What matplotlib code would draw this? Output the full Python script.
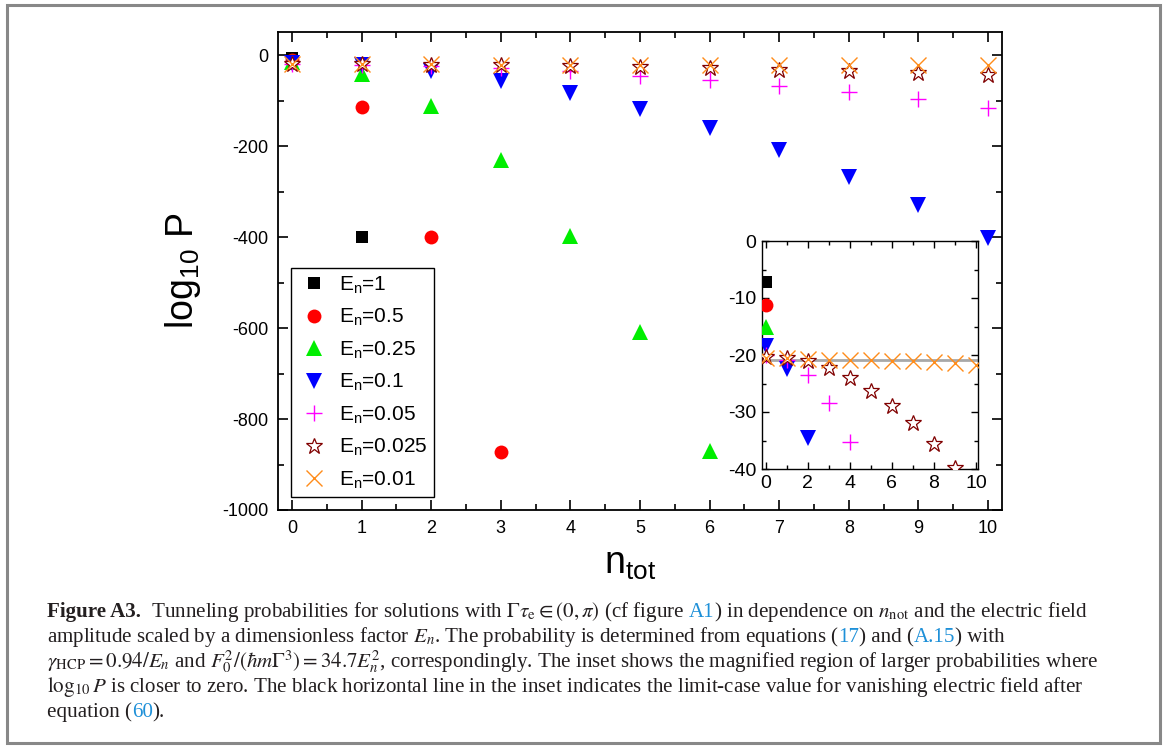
import matplotlib
matplotlib.use('Agg')
import matplotlib.pyplot as plt
from matplotlib.ticker import MultipleLocator
from matplotlib.patches import Rectangle
from matplotlib.transforms import IdentityTransform

plt.rcParams['font.family'] = ['Liberation Sans', 'DejaVu Sans']
plt.rcParams['mathtext.fontset'] = 'custom'
plt.rcParams['mathtext.rm'] = 'Liberation Sans'
plt.rcParams['mathtext.it'] = 'Liberation Sans:italic'
plt.rcParams['axes.unicode_minus'] = False

# data (log10 P vs n_tot, one list per field amplitude)
n_tot = list(range(11))
e_labels = ['1', '0.5', '0.25', '0.1', '0.05', '0.025', '0.01']
logp_e1 = [-7.2, -400]
logp_e05 = [-11.3, -115, -400, -872]
logp_e025 = [-15, -42, -112, -231, -397, -609, -870]
logp_e01 = [-18.5, -22.5, -34.5, -56, -84, -119, -160, -209, -267, -330, -403]
logp_e005 = [-20, -20.9, -23.5, -28.5, -35.3, -45, -55, -67, -81, -97, -116]
logp_e0025 = [-20.3, -20.5, -21, -22.3, -24.1, -26.3, -29, -32, -35.7, -39.8, -44]
logp_e001 = [-20.5, -20.6, -20.7, -20.8, -20.8, -20.9, -21, -21.1, -21.2, -21.4, -21.7]
limit_value = -20.9

all_series = [logp_e1, logp_e05, logp_e025, logp_e01, logp_e005, logp_e0025, logp_e001]

styles = [
    dict(marker='s', color='black', ms=8, mew=0),
    dict(marker='o', color='#ff0000', ms=10, mew=0),
    dict(marker='^', color='#00ee00', ms=11, mew=0),
    dict(marker='v', color='#0000ff', ms=11, mew=0),
    dict(marker='+', color='#ff00ff', ms=11, mew=1.0),
    dict(marker='*', color='#800000', ms=12, mew=0.9, mfc='white'),
    dict(marker='x', color='#ff8c1a', ms=11, mew=1.0),
]

W, H = 1174, 747
fig = plt.figure(figsize=(W / 100, H / 100), dpi=100)

ax = fig.add_axes([278 / W, 1 - 510 / H, 724 / W, 477.7 / H])
for vals, lab, st in zip(all_series, e_labels, styles):
    ax.plot(n_tot[:len(vals)], vals, ls='none', label='E$_\\mathrm{n}$=' + lab, **st)

ax.set_xlim(-0.2, 10.2)
ax.set_ylim(-1000, 50)
ax.xaxis.set_major_locator(MultipleLocator(1))
ax.xaxis.set_minor_locator(MultipleLocator(0.5))
ax.yaxis.set_major_locator(MultipleLocator(200))
ax.yaxis.set_minor_locator(MultipleLocator(100))
ax.tick_params(which='both', direction='in', top=True, right=True, width=1.2)
ax.tick_params(which='major', length=7, labelsize=13, pad=7)
ax.tick_params(which='minor', length=4)
for sp in ax.spines.values():
    sp.set_linewidth(1.3)

ax.set_ylabel('log$_{10}$ P', fontsize=27)
ax.yaxis.set_label_coords(-0.104, 0.5)
ax.set_xlabel('n$_\\mathrm{tot}$', fontsize=27)
ax.xaxis.set_label_coords(0.486, -0.075)

leg = ax.legend(loc='lower left', bbox_to_anchor=(0.018, 0.027), borderaxespad=0,
                fontsize=15, frameon=True, fancybox=False, framealpha=1,
                edgecolor='black', labelspacing=0.54, handletextpad=0.4,
                borderpad=0.3, handlelength=1.6)
leg.get_frame().set_linewidth(1.0)

# inset with the region near zero
axin = fig.add_axes([761.7 / W, 1 - 469 / H, 216.3 / W, 228 / H])
axin.axhline(limit_value, color='#a8a8a8', lw=2, zorder=1)
for vals, st in zip(all_series, styles):
    axin.plot(n_tot[:len(vals)], vals, ls='none', zorder=3, **st)
axin.set_xlim(-0.2, 10.1)
axin.set_ylim(-40, 0)
axin.xaxis.set_major_locator(MultipleLocator(2))
axin.xaxis.set_minor_locator(MultipleLocator(1))
axin.yaxis.set_major_locator(MultipleLocator(10))
axin.yaxis.set_minor_locator(MultipleLocator(5))
axin.tick_params(which='both', direction='in', top=True, right=True, width=1.0)
axin.tick_params(which='major', length=5, labelsize=14, pad=4)
axin.tick_params(which='minor', length=3)
for sp in axin.spines.values():
    sp.set_linewidth(1.0)

# outer frame
fig.patches.append(Rectangle((7 / W, 4 / H), 1153 / W, 738 / H, transform=fig.transFigure,
                             fill=False, edgecolor='#888888', lw=2.2))

# caption
cap_size = 15.1
text_col = '#231f20'
link_col = '#1e90d8'
caption = [
    [('Figure A3.', 'b'), ('  Tunneling probabilities for solutions with $\\Gamma\\tau_\\mathrm{e}\\in(0,\\pi)$ (cf figure ', 'n'),
     ('A1', 'l'), (') in dependence on $n_\\mathrm{not}$ and the electric field', 'n')],
    [('amplitude scaled by a dimensionless factor $E_n$. The probability is determined from equations (', 'n'),
     ('17', 'l'), (') and (', 'n'), ('A.15', 'l'), (') with', 'n')],
    [('$\\gamma_\\mathrm{HCP}=0.94/E_n$ and $F_0^2/(\\hbar m\\Gamma^3)=34.7E_n^2$, correspondingly. '
      'The inset shows the magnified region of larger probabilities where', 'n')],
    [('$\\log_{10}P$ is closer to zero. The black horizontal line in the inset indicates the limit-case '
      'value for vanishing electric field after', 'n')],
    [('equation (', 'n'), ('60', 'l'), (').', 'n')],
]

renderer = fig.canvas.get_renderer()


def text_kw(kind):
    return dict(fontsize=cap_size, family=['Liberation Serif', 'DejaVu Serif'],
                math_fontfamily='stix', weight='bold' if kind == 'b' else 'normal',
                color=link_col if kind == 'l' else text_col, transform=IdentityTransform())


def advance(s, kind):
    t1 = fig.text(0, 0, s + '|', **text_kw(kind))
    t2 = fig.text(0, 0, '|', **text_kw(kind))
    w = t1.get_window_extent(renderer).width - t2.get_window_extent(renderer).width
    t1.remove()
    t2.remove()
    return w


x0 = 47
baselines = [617, 642, 667, 692, 717]
for line, yb in zip(caption, baselines):
    x = x0
    for s, kind in line:
        fig.text(x, H - yb, s, va='baseline', ha='left', **text_kw(kind))
        x += advance(s, kind)

fig.savefig('out.png', dpi=100)
